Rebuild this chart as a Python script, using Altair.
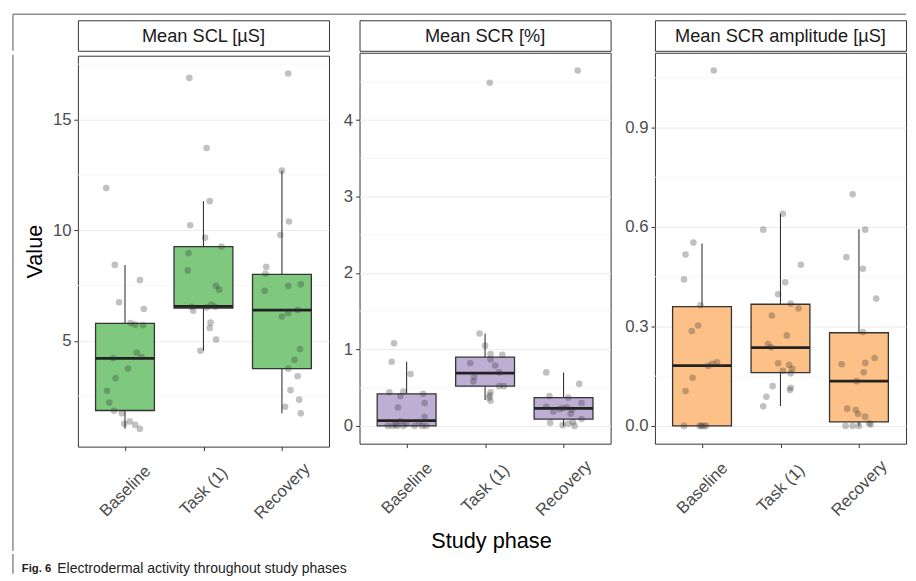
import altair as alt
import pandas as pd

FONT = "Liberation Sans"

PHASES = ["Baseline", "Task (1)", "Recovery"]
TITLES = ["Mean SCL [µS]", "Mean SCR [%]", "Mean SCR amplitude [µS]"]
FILLS = ["#7fc97f", "#beaed4", "#fdc086"]

# Box summaries per phase: [lower whisker, Q1, median, Q3, upper whisker]
SCL_BOX = [[1.02, 1.85, 4.21, 5.79, 8.43],
           [4.55, 6.48, 6.56, 9.26, 11.31],
           [1.72, 3.74, 6.39, 8.00, 12.69]]
SCR_BOX = [[0.00, 0.00, 0.07, 0.42, 0.84],
           [0.34, 0.52, 0.69, 0.90, 1.21],
           [0.00, 0.09, 0.23, 0.37, 0.70]]
AMP_BOX = [[0.000, 0.000, 0.182, 0.360, 0.550],
           [0.060, 0.161, 0.236, 0.367, 0.640],
           [0.000, 0.012, 0.135, 0.281, 0.593]]

# Individual observations per phase and their horizontal jitter
SCL_VALUES = [
    [11.90, 8.43, 6.74, 7.74, 6.44, 5.80, 5.73, 5.71, 4.47, 4.27, 4.21, 3.75, 3.31, 2.74, 2.21, 1.84, 1.72, 1.25, 1.35, 1.20, 1.02],
    [16.88, 13.71, 11.31, 10.22, 9.66, 9.26, 8.96, 8.18, 7.48, 7.31, 6.63, 6.54, 6.36, 6.51, 6.54, 5.82, 5.58, 5.06, 4.55],
    [17.08, 12.69, 10.39, 9.78, 8.34, 8.03, 7.26, 7.48, 7.55, 6.39, 6.25, 6.10, 4.63, 4.14, 3.74, 3.40, 2.77, 2.34, 2.02, 1.72],
]
SCL_JITTER = [
    [-0.24, -0.13, -0.075, 0.19, 0.24, 0.07, 0.13, 0.23, 0.15, 0.21, -0.15, 0.04, -0.12, -0.23, -0.20, -0.14, -0.04, -0.01, 0.06, 0.13, 0.19],
    [-0.18, 0.04, 0.08, -0.17, 0.02, 0.23, -0.19, -0.20, 0.16, 0.20, 0.10, -0.15, -0.13, 0.04, 0.15, 0.09, 0.08, 0.16, -0.04],
    [0.08, 0.00, 0.09, -0.02, -0.20, -0.21, -0.22, 0.08, 0.24, 0.20, 0.08, 0.00, 0.23, 0.16, 0.08, 0.20, 0.11, 0.22, 0.04, 0.24],
]
SCR_VALUES = [
    [1.08, 0.84, 0.68, 0.44, 0.45, 0.39, 0.42, 0.30, 0.24, 0.12, 0.06, 0.05, 0.03, 0.02, 0.00, 0.00, 0.00, 0.00, 0.00, 0.00, 0.00],
    [4.49, 1.21, 1.05, 0.94, 0.93, 0.87, 0.82, 0.79, 0.70, 0.64, 0.58, 0.52, 0.52, 0.44, 0.40, 0.37, 0.33],
    [4.65, 0.70, 0.55, 0.39, 0.37, 0.30, 0.25, 0.19, 0.22, 0.24, 0.21, 0.16, 0.23, 0.09, 0.04, 0.01, 0.03, 0.00, 0.05],
]
SCR_JITTER = [
    [-0.16, -0.19, 0.05, -0.22, -0.04, -0.08, 0.21, 0.23, -0.11, 0.23, -0.08, 0.16, 0.00, -0.14, -0.24, -0.18, -0.12, -0.04, 0.10, 0.20, 0.25],
    [0.06, -0.07, 0.00, 0.07, 0.22, 0.07, -0.19, 0.13, 0.18, -0.14, -0.15, 0.18, 0.24, 0.07, 0.06, 0.05, 0.07],
    [0.18, -0.22, 0.20, -0.18, 0.06, 0.23, -0.22, -0.13, -0.05, 0.04, 0.11, 0.09, -0.01, 0.23, -0.17, -0.01, 0.06, 0.14, 0.12],
]
AMP_VALUES = [
    [1.072, 0.553, 0.517, 0.442, 0.364, 0.303, 0.286, 0.192, 0.187, 0.181, 0.145, 0.105, 0.0, 0.0, 0.0, 0.0, 0.0],
    [0.640, 0.592, 0.486, 0.433, 0.397, 0.369, 0.354, 0.333, 0.273, 0.247, 0.237, 0.189, 0.184, 0.172, 0.166, 0.159, 0.120, 0.115, 0.108, 0.088, 0.059],
    [0.699, 0.592, 0.509, 0.474, 0.384, 0.283, 0.205, 0.190, 0.186, 0.162, 0.135, 0.052, 0.048, 0.036, 0.028, 0.008, 0.004, 0.0, 0.0, 0.0],
]
AMP_JITTER = [
    [0.15, -0.11, -0.21, -0.23, -0.02, -0.05, -0.13, 0.19, 0.13, 0.08, -0.12, -0.21, -0.23, -0.03, -0.01, 0.02, 0.05],
    [0.03, -0.22, 0.26, 0.06, -0.03, 0.13, 0.23, -0.11, 0.08, -0.16, -0.12, -0.03, 0.11, 0.15, 0.03, 0.13, -0.10, 0.13, 0.12, -0.18, -0.22],
    [-0.08, 0.08, -0.16, 0.05, 0.22, 0.05, 0.20, 0.08, -0.22, 0.06, -0.03, -0.15, -0.04, -0.01, 0.08, 0.13, 0.15, -0.17, -0.08, 0.00],
]

SCL_TICKS = [5, 10, 15]
SCL_MINOR = [2.5, 7.5, 12.5, 17.5]
SCR_TICKS = [0, 1, 2, 3, 4]
SCR_MINOR = [0.5, 1.5, 2.5, 3.5, 4.5]
AMP_TICKS = [0.0, 0.3, 0.6, 0.9]
AMP_MINOR = [0.15, 0.45, 0.75, 1.05]

CAPTION_BOLD = "Fig. 6"
CAPTION_TEXT = "Electrodermal activity throughout study phases"

W, H, STRIP_H = 255, 397, 31
BOX_WIDTH = 0.75
FRAME_COLOR = "#8c8c8c"
FRAME_LEFT = -66       # figure frame, relative to first panel's left edge
FRAME_TOP = -6         # relative to top of the strips
SEG_START = [None, 31, 45]  # frame segments reach a little over the gaps
CONCAT_SPACING = -4

label_expr = "[" + ",".join("'%s'" % p for p in PHASES) + "][datum.value - 1]"
one = pd.DataFrame({"k": [0]})


def make_panel(k, values, jitters, box, ticks, minor, fmt, ytitle, xtitle):
    rows = []
    for p, (vals, jit) in enumerate(zip(values, jitters)):
        for v, j in zip(vals, jit):
            rows.append({"phase": p + 1, "value": v, "jitter": j})
    pts = pd.DataFrame(rows)
    pts["xpos"] = pts["phase"] + pts["jitter"]

    lo, hi = pts["value"].min(), pts["value"].max()
    pad = 0.05 * (hi - lo)
    yscale = alt.Scale(domain=[lo - pad, hi + pad], nice=False, zero=False)
    xscale = alt.Scale(domain=[0.4, 3.6], nice=False, zero=False)

    bx = pd.DataFrame(box, columns=["lw", "q1", "med", "q3", "uw"])
    bx["phase"] = [1, 2, 3]
    bx["left"] = bx["phase"] - BOX_WIDTH / 2
    bx["right"] = bx["phase"] + BOX_WIDTH / 2

    xaxis = alt.Axis(values=[1, 2, 3], labelExpr=label_expr, labelAngle=-45,
                     labelAlign="center", labelBaseline="middle", labelPadding=41,
                     labelFontSize=17, tickSize=4, grid=False, title=xtitle,
                     titleFontSize=22, titlePadding=12, titleX=W / 2 + 6)
    yaxis = alt.Axis(values=ticks, format=fmt, labelFontSize=17, tickSize=4,
                     labelPadding=3, grid=True, gridColor="#ebebeb", gridWidth=1,
                     title=ytitle, titleFontSize=22, titlePadding=6)

    minor_df = pd.DataFrame({"y": minor})
    minor_layer = alt.Chart(minor_df).mark_rule(color="#f5f5f5", strokeWidth=0.8).encode(
        y=alt.Y("y:Q", scale=yscale, axis=yaxis))

    base = alt.Chart(bx)
    wlow = base.mark_rule(color="#333333", strokeWidth=1.1).encode(
        x=alt.X("phase:Q", scale=xscale, axis=xaxis),
        y=alt.Y("lw:Q", scale=yscale), y2="q1:Q")
    whigh = base.mark_rule(color="#333333", strokeWidth=1.1).encode(
        x=alt.X("phase:Q", scale=xscale), y=alt.Y("q3:Q", scale=yscale), y2="uw:Q")
    boxes = base.mark_rect(fill=FILLS[k], stroke="#333333", strokeWidth=1.3).encode(
        x=alt.X("left:Q", scale=xscale), x2="right:Q",
        y=alt.Y("q1:Q", scale=yscale), y2="q3:Q")
    medians = base.mark_rule(color="#222222", strokeWidth=2.8).encode(
        x=alt.X("left:Q", scale=xscale), x2="right:Q",
        y=alt.Y("med:Q", scale=yscale))
    points = alt.Chart(pts).mark_circle(size=45, color="#333333", opacity=0.3).encode(
        x=alt.X("xpos:Q", scale=xscale), y=alt.Y("value:Q", scale=yscale))

    plot_layers = [minor_layer, wlow, whigh, boxes, medians, points]

    strip_text = alt.Chart(pd.DataFrame({"t": [TITLES[k]]})).mark_text(
        fontSize=18.5, color="#1a1a1a", baseline="middle", align="center").encode(
        text="t:N", x=alt.value(W / 2), y=alt.value(STRIP_H / 2 + 1))
    # top edge of the figure frame, one segment per panel
    seg_left = FRAME_LEFT if k == 0 else -SEG_START[k]
    frame_top = alt.Chart(one).mark_rule(color=FRAME_COLOR, strokeWidth=1.5).encode(
        x=alt.value(seg_left), x2=alt.value(W), y=alt.value(FRAME_TOP))
    strip_layers = [frame_top, strip_text]

    if k == 0:
        strip_layers.append(alt.Chart(one).mark_rule(color=FRAME_COLOR, strokeWidth=1.5).encode(
            x=alt.value(FRAME_LEFT), y=alt.value(FRAME_TOP), y2=alt.value(STRIP_H)))
        plot_layers.insert(0, alt.Chart(one).mark_rule(color=FRAME_COLOR, strokeWidth=1.5).encode(
            x=alt.value(FRAME_LEFT), y=alt.value(-1), y2=alt.value(503)))

    plot = alt.layer(*plot_layers).properties(width=W, height=H)
    strip = alt.layer(*strip_layers).properties(width=W, height=STRIP_H)
    return alt.vconcat(strip, plot, spacing=0)


p1 = make_panel(0, SCL_VALUES, SCL_JITTER, SCL_BOX, SCL_TICKS, SCL_MINOR, "d", "Value", None)
p2 = make_panel(1, SCR_VALUES, SCR_JITTER, SCR_BOX, SCR_TICKS, SCR_MINOR, "d", None, "Study phase")
p3 = make_panel(2, AMP_VALUES, AMP_JITTER, AMP_BOX, AMP_TICKS, AMP_MINOR, ".1f", None, None)

row = alt.hconcat(p1, p2, p3, spacing=CONCAT_SPACING)

cap_df = pd.DataFrame({"a": [CAPTION_BOLD], "b": [CAPTION_TEXT]})
cap_a = alt.Chart(cap_df).mark_text(fontSize=11.5, fontWeight="bold", align="left", baseline="middle",
                                    font=FONT, color="#222222").encode(
    text="a:N", x=alt.value(-57), y=alt.value(15))
cap_b = alt.Chart(cap_df).mark_text(fontSize=14.2, align="left", baseline="middle",
                                    font=FONT, color="#222222").encode(
    text="b:N", x=alt.value(-21), y=alt.value(15))
cap_frame = alt.Chart(one).mark_rule(color=FRAME_COLOR, strokeWidth=1.5).encode(
    x=alt.value(FRAME_LEFT), y=alt.value(0), y2=alt.value(20))
caption = alt.layer(cap_frame, cap_a, cap_b).properties(
    width=400, height=20, view=alt.ViewConfig(stroke=None))

chart = alt.vconcat(row, caption, spacing=0).properties(
    padding={"left": 3, "top": 0, "right": 0, "bottom": 0}
).configure_view(stroke="#333333", strokeWidth=1).configure_axis(
    labelFont=FONT, titleFont=FONT, labelColor="#4d4d4d", tickColor="#333333",
    domain=False, titleFontWeight="normal", titleColor="#000000"
).configure_text(font=FONT)

chart.save("out.html", embed_options={"renderer": "svg", "actions": False})
